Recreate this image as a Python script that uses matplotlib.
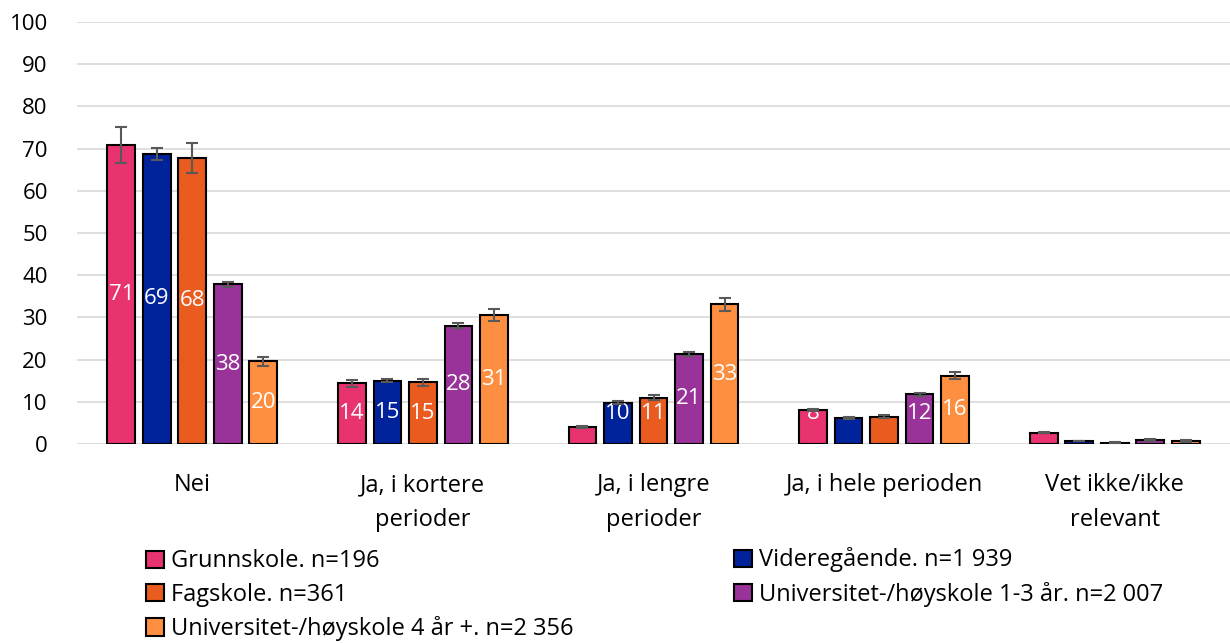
import matplotlib.pyplot as plt
import numpy as np
from matplotlib.patches import Patch

plt.rcParams['font.family'] = ['Open Sans', 'DejaVu Sans']

categories = ["Nei", "Ja, i kortere\nperioder", "Ja, i lengre\nperioder",
              "Ja, i hele perioden", "Vet ikke/ikke\nrelevant"]
series = ["Grunnskole. n=196", "Videregående. n=1 939", "Fagskole. n=361",
          "Universitet-/høyskole 1-3 år. n=2 007", "Universitet-/høyskole 4 år +. n=2 356"]
colors = ["#E8336F", "#00239C", "#E95B1F", "#993399", "#FF8F40"]

values = [
    [70.8, 14.4, 4.0, 8.1, 2.7],
    [68.8, 15.0, 9.8, 6.2, 0.7],
    [67.8, 14.6, 11.0, 6.5, 0.3],
    [37.9, 28.0, 21.4, 11.8, 1.0],
    [19.6, 30.6, 33.1, 16.2, 0.7],
]
errors = [
    [4.3, 0.8, 0.3, 0.3, 0.2],
    [1.4, 0.4, 0.3, 0.3, 0.1],
    [3.6, 0.8, 0.5, 0.3, 0.1],
    [0.6, 0.6, 0.5, 0.4, 0.2],
    [1.0, 1.5, 1.6, 0.8, 0.2],
]

fig = plt.figure(figsize=(12.3, 6.43), dpi=100)
ax = fig.add_axes([77/1230, 1 - 444/643, 1153/1230, 422/643])

x = np.arange(len(categories))
width = 0.12
step = 0.154
for i, (name, col) in enumerate(zip(series, colors)):
    pos = x + (i - 2) * step
    bars = ax.bar(pos, values[i], width, color=col, edgecolor="black", linewidth=1.5,
                  yerr=errors[i], error_kw=dict(ecolor="#595959", elinewidth=1.5,
                                                capsize=4, capthick=1.5, zorder=5), zorder=3)
    for j, b in enumerate(bars):
        v = values[i][j]
        if v < 7:
            continue  # label would sit above the bar, white on white
        ax.text(b.get_x() + b.get_width() / 2, max(v / 2, 7.3), f"{v:.0f}",
                ha="center", va="center", color="white", fontsize=16, zorder=4)

ax.set_xlim(-0.5, 4.5)
ax.set_ylim(0, 100)
ax.set_yticks(range(0, 101, 10))
ax.set_xticks(x)
ax.set_xticklabels(categories, fontsize=17, linespacing=1.6)
ax.tick_params(axis="y", labelsize=16, length=0, pad=21)
ax.tick_params(axis="x", length=0, pad=21)
ax.grid(axis="y", color="#d9d9d9", linewidth=1.2, zorder=0)
for s in ax.spines.values():
    s.set_visible(False)

handles = [Patch(facecolor=c, edgecolor="black", linewidth=1.5) for c in colors]
leg_kw = dict(loc="upper left", frameon=False, fontsize=17, handlelength=0.75,
              handleheight=0.75, handletextpad=0.3, labelspacing=0.4, borderaxespad=0)
fig.legend([handles[k] for k in (0, 2, 4)], [series[k] for k in (0, 2, 4)],
           bbox_to_anchor=(137/1230, 1 - 540/643), **leg_kw)
fig.legend([handles[k] for k in (1, 3)], [series[k] for k in (1, 3)],
           bbox_to_anchor=(725/1230, 1 - 538/643), **leg_kw)

fig.savefig("out.png", dpi=100)
